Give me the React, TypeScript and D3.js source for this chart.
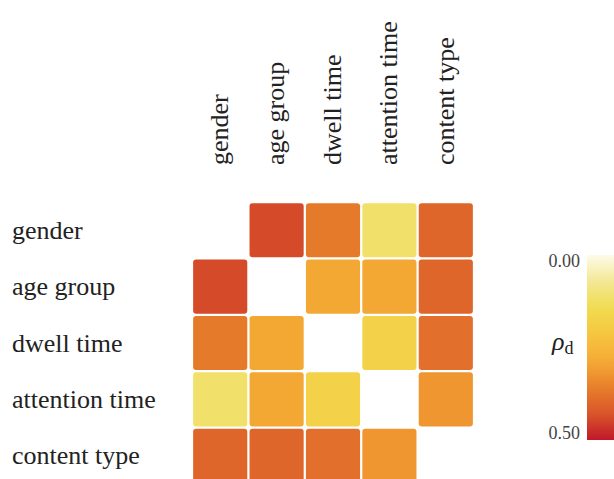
import * as d3 from "d3";
import React from "react";

const variables = ["gender", "age group", "dwell time", "attention time", "content type"];

// symmetric matrix of rho_d, null on the diagonal
const rhoValues: (number | null)[][] = [
  [null, 0.44, 0.367, 0.115, 0.4],
  [0.44, null, 0.29, 0.29, 0.4],
  [0.367, 0.29, null, 0.177, 0.385],
  [0.115, 0.29, 0.177, null, 0.32],
  [0.4, 0.4, 0.385, 0.32, null],
];

const colorStops = ["#fdfbea", "#f3e894", "#f0dc50", "#f6c540", "#f5ab35", "#e8802b", "#d9552a", "#c0182a"];
const colorTicks = [0, 0.5];

const W = 614;
const H = 479;
const FONT = "'Liberation Serif', 'Times New Roman', serif";

const App: React.FC = () => {
  const x = d3.scaleBand<string>().domain(variables).range([192, 474]).paddingInner(0.04).paddingOuter(0.02);
  const y = d3.scaleBand<string>().domain(variables).range([202, 484]).paddingInner(0.04).paddingOuter(0.02);

  const interp = d3.piecewise(d3.interpolateRgb, colorStops);
  const color = d3.scaleSequential((t: number) => interp(t)).domain([0, 0.5]);

  const barY = d3.scaleLinear().domain([0, 0.5]).range([255, 440]);
  const gradStops = d3.range(0, 1.0001, 0.05);

  const cells: { r: string; c: string; v: number }[] = [];
  rhoValues.forEach((row, i) =>
    row.forEach((v, j) => {
      if (v !== null) cells.push({ r: variables[i], c: variables[j], v });
    })
  );

  return (
    <svg width={W} height={H} style={{ position: "absolute", left: 0, top: 0, background: "#fff" }}>
      <defs>
        <linearGradient id="cbar" x1="0" y1="0" x2="0" y2="1">
          {gradStops.map((t) => (
            <stop key={t} offset={t} stopColor={color(t * 0.5)} />
          ))}
        </linearGradient>
      </defs>

      {/* cells */}
      {cells.map((d) => (
        <rect
          key={d.r + d.c}
          x={x(d.c)}
          y={y(d.r)}
          width={x.bandwidth()}
          height={y.bandwidth()}
          rx={3}
          fill={color(d.v)}
        />
      ))}

      {/* row labels */}
      {variables.map((v) => (
        <text
          key={"r" + v}
          x={12}
          y={y(v)! + y.bandwidth() / 2}
          dy="0.33em"
          fontFamily={FONT}
          fontSize={26}
          fill="#222"
        >
          {v}
        </text>
      ))}

      {/* column labels */}
      {variables.map((v) => (
        <text
          key={"c" + v}
          transform={`translate(${x(v)! + x.bandwidth() / 2},165) rotate(-90)`}
          dy="0.3em"
          fontFamily={FONT}
          fontSize={26}
          fill="#222"
        >
          {v}
        </text>
      ))}

      {/* colorbar */}
      <rect x={587} y={barY(0)} width={30} height={barY(0.5) - barY(0)} fill="url(#cbar)" />
      {colorTicks.map((t, i) => (
        <text
          key={"t" + t}
          x={580}
          y={barY(t)}
          dy={i === 0 ? "0.65em" : "-0.05em"}
          textAnchor="end"
          fontFamily={FONT}
          fontSize={18}
          fill="#444"
        >
          {d3.format(".2f")(t)}
        </text>
      ))}
      <text x={552} y={barY(0.25) + 2} fontFamily={FONT} fill="#222">
        <tspan fontSize={26} fontStyle="italic">ρ</tspan>
        <tspan fontSize={18} dy={4}>d</tspan>
      </text>
    </svg>
  );
};

export default App;
